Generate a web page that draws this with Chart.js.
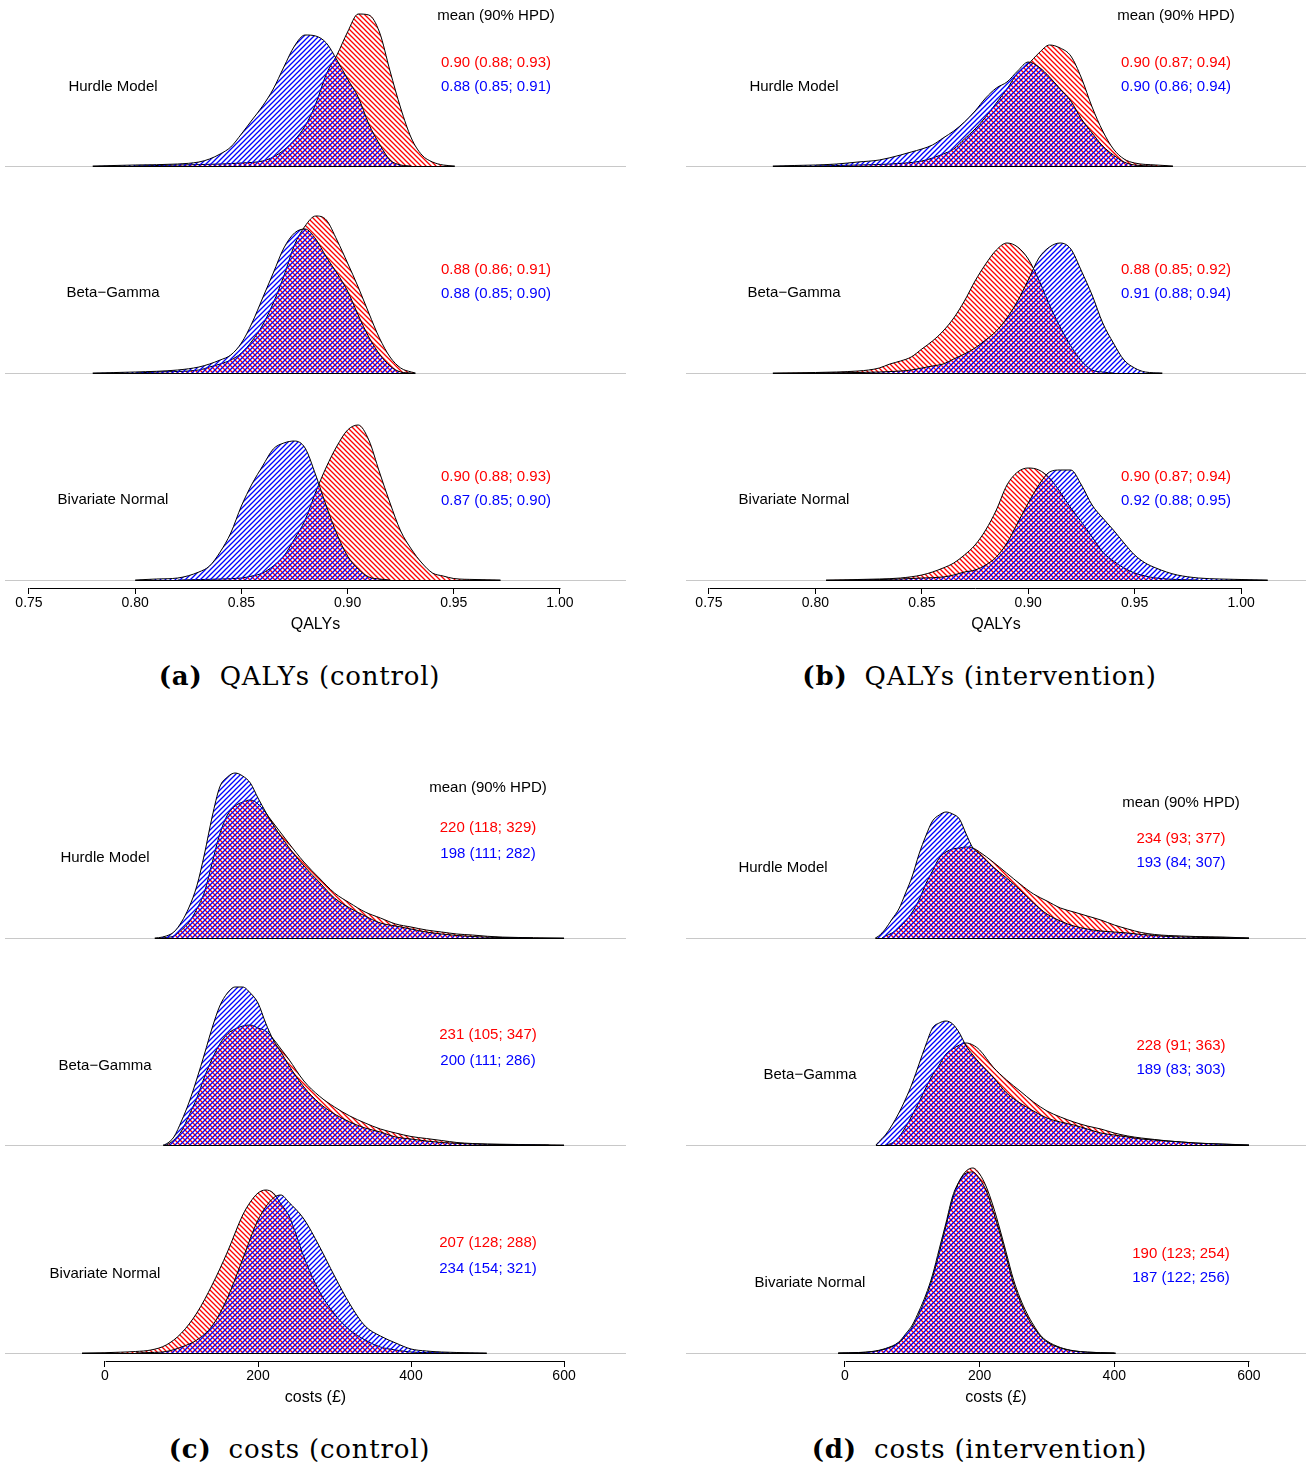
<!DOCTYPE html>
<html>
<head>
<meta charset="utf-8">
<script src="https://cdn.jsdelivr.net/npm/chart.js@4.4.1/dist/chart.umd.min.js"></script>
<style>
  body { margin: 0; background: #fff; width: 1311px; height: 1466px; position: relative; overflow: hidden; }
  .panel { position: absolute; width: 655px; }
  .cap { position: absolute; width: 655px; text-align: center; font-family: "DejaVu Serif", serif; font-size: 26px; letter-spacing: 0.8px; line-height: 30px; color: #000; }
  .cap b { margin-right: 8px; }
</style>
</head>
<body>
<div class="panel" style="left:0;top:0;height:640px"><canvas id="qalyControl"></canvas></div>
<div class="panel" style="left:656px;top:0;height:640px"><canvas id="qalyInterv"></canvas></div>
<div class="panel" style="left:0;top:720px;height:693px"><canvas id="costControl"></canvas></div>
<div class="panel" style="left:656px;top:720px;height:693px"><canvas id="costInterv"></canvas></div>
<div class="cap" style="left:-28px;top:661px"><b>(a)</b> QALYs (control)</div>
<div class="cap" style="left:652px;top:661px"><b>(b)</b> QALYs (intervention)</div>
<div class="cap" style="left:-28px;top:1434px"><b>(c)</b> costs (control)</div>
<div class="cap" style="left:652px;top:1434px"><b>(d)</b> costs (intervention)</div>
<script>
// posterior densities, [value, density (arbitrary units)]
const rowNames = ['Hurdle Model', 'Beta\u2212Gamma', 'Bivariate Normal'];
const qalyTicks = [0.75, 0.80, 0.85, 0.90, 0.95, 1.00];
const costTicks = [0, 200, 400, 600];

// (a) QALYs, control
const qcHurdleRed = [[0.80,0],[0.82,1],[0.84,2],[0.85,3],[0.86,5],[0.865,9],[0.87,16],[0.875,26],[0.88,40],[0.885,62],[0.89,92],[0.895,111],[0.90,134],[0.905,152],[0.91,151],[0.915,134],[0.92,95],[0.925,58],[0.93,28],[0.935,11],[0.94,4],[0.945,1],[0.9505,0]];
const qcHurdleBlue = [[0.78,0],[0.80,1],[0.82,2],[0.83,4],[0.835,7],[0.84,12],[0.845,19],[0.85,32],[0.855,46],[0.86,60],[0.865,77],[0.87,99],[0.875,120],[0.88,131],[0.885,130],[0.89,123],[0.895,106],[0.90,87],[0.905,69],[0.91,42],[0.915,22],[0.92,6],[0.925,1],[0.93,0]];
const qcBetaRed = [[0.80,0],[0.81,1],[0.83,3],[0.835,6],[0.84,9],[0.845,13],[0.85,20],[0.855,32],[0.86,48],[0.865,70],[0.87,97],[0.875,128],[0.88,147],[0.885,157],[0.89,153],[0.895,133],[0.90,110],[0.905,86],[0.91,60],[0.915,35],[0.92,16],[0.925,5],[0.93,1],[0.932,0]];
const qcBetaBlue = [[0.78,0],[0.80,1],[0.82,3],[0.83,6],[0.835,9],[0.84,13],[0.845,18],[0.85,30],[0.855,50],[0.86,75],[0.865,100],[0.87,125],[0.875,140],[0.88,144],[0.885,134],[0.89,116],[0.895,100],[0.90,82],[0.905,58],[0.91,36],[0.915,19],[0.92,7],[0.925,1],[0.93,0]];
const qcBivRed = [[0.82,0],[0.84,1],[0.85,2],[0.855,4],[0.86,7],[0.865,14],[0.87,24],[0.875,41],[0.88,60],[0.885,88],[0.89,113],[0.895,134],[0.90,150],[0.905,155],[0.91,140],[0.915,108],[0.92,77],[0.925,49],[0.93,31],[0.935,17],[0.94,7],[0.945,4],[0.95,1.5],[0.96,0.5],[0.972,0]];
const qcBivBlue = [[0.80,0],[0.81,1],[0.82,2],[0.83,8],[0.835,14],[0.84,28],[0.845,47],[0.85,74],[0.855,96],[0.86,114],[0.865,131],[0.87,137],[0.875,139],[0.88,132],[0.885,105],[0.89,74],[0.895,46],[0.90,24],[0.905,11],[0.91,3],[0.915,1],[0.92,0]];
const qcRedText = ['0.90 (0.88; 0.93)', '0.88 (0.86; 0.91)', '0.90 (0.88; 0.93)'];
const qcBlueText = ['0.88 (0.85; 0.91)', '0.88 (0.85; 0.90)', '0.87 (0.85; 0.90)'];

// (b) QALYs, intervention
const qiHurdleRed = [[0.80,0],[0.82,1],[0.835,2],[0.85,5],[0.855,8],[0.86,12],[0.865,17],[0.87,27],[0.875,37],[0.88,49],[0.885,63],[0.89,77],[0.895,93],[0.90,102],[0.905,113],[0.91,121],[0.915,118],[0.92,110],[0.925,88],[0.93,59],[0.935,35],[0.94,17],[0.945,7],[0.95,3],[0.96,1],[0.968,0]];
const qiHurdleBlue = [[0.78,0],[0.79,0.5],[0.80,1],[0.81,2],[0.82,4],[0.83,6],[0.84,11],[0.845,14],[0.85,17],[0.855,21],[0.86,28],[0.865,35],[0.87,44],[0.875,55],[0.88,68],[0.885,78],[0.89,84],[0.895,95],[0.90,104],[0.905,99],[0.91,89],[0.915,77],[0.92,65],[0.925,47],[0.93,33],[0.935,20],[0.94,11],[0.945,4],[0.95,1],[0.96,0]];
const qiBetaRed = [[0.78,0],[0.80,0.5],[0.81,1],[0.82,2],[0.825,3],[0.83,5],[0.835,9],[0.84,12],[0.845,16],[0.85,24],[0.855,32],[0.86,42],[0.865,55],[0.87,72],[0.875,92],[0.88,109],[0.885,123],[0.89,130],[0.895,126],[0.90,114],[0.905,93],[0.91,68],[0.915,46],[0.92,27],[0.925,12],[0.93,3],[0.935,1],[0.94,0]];
const qiBetaBlue = [[0.80,0],[0.82,0.5],[0.83,1],[0.84,2],[0.845,3],[0.85,5],[0.855,7],[0.86,9],[0.865,14],[0.87,19],[0.875,25],[0.88,33],[0.885,42],[0.89,55],[0.895,72],[0.90,93],[0.905,115],[0.91,126],[0.915,130],[0.92,124],[0.925,102],[0.93,78],[0.935,50],[0.94,30],[0.945,13],[0.95,5],[0.955,1],[0.963,0]];
const qiBivRed = [[0.805,0],[0.82,0.5],[0.83,1],[0.84,2],[0.85,5],[0.855,8],[0.86,12],[0.865,17],[0.87,25],[0.875,35],[0.88,50],[0.885,70],[0.89,95],[0.895,108],[0.90,112],[0.905,110],[0.91,102],[0.915,88],[0.92,72],[0.925,58],[0.93,43],[0.935,28],[0.94,19],[0.945,12],[0.95,7],[0.955,4],[0.96,2],[0.97,0.5],[0.98,0]];
const qiBivBlue = [[0.82,0],[0.84,1],[0.85,2],[0.86,3],[0.865,5],[0.87,8],[0.875,10],[0.88,15],[0.885,23],[0.89,37],[0.895,57],[0.90,77],[0.905,95],[0.91,108],[0.915,110],[0.92,110],[0.925,95],[0.93,75],[0.935,62],[0.94,50],[0.945,37],[0.95,25],[0.955,17],[0.96,12],[0.965,8],[0.97,5],[0.98,2],[0.99,1],[1.00,0.5],[1.0125,0]];
const qiRedText = ['0.90 (0.87; 0.94)', '0.88 (0.85; 0.92)', '0.90 (0.87; 0.94)'];
const qiBlueText = ['0.90 (0.86; 0.94)', '0.91 (0.88; 0.94)', '0.92 (0.88; 0.95)'];

// (c) costs, control
const ccHurdleRed = [[75,0],[80,0.5],[90,2],[100,8],[110,16],[120,29],[130,46],[140,75],[150,104],[160,123],[170,132],[180,136],[190,138],[200,134],[220,115],[240,95],[260,76],[280,60],[300,45],[320,35],[340,26],[360,20],[380,14],[400,11],[420,8],[440,6],[460,4],[480,3],[500,1.7],[520,0.9],[560,0.3],[600,0]];
const ccHurdleBlue = [[65,0],[70,0.3],[80,2],[90,6],[100,16],[110,31],[120,52],[130,84],[140,121],[150,151],[160,161],[170,165],[180,162],[190,155],[200,140],[220,113],[240,91],[260,72],[280,56],[300,40],[320,30],[340,22],[360,15],[380,12],[400,9],[420,6],[440,4],[460,2.5],[480,1.5],[500,0.8],[520,0.4],[560,0]];
const ccBetaRed = [[80,0],[85,2],[90,5],[100,14],[110,30],[120,47],[130,68],[140,86],[150,101],[160,111],[170,116],[180,119],[190,120],[200,117],[210,114],[220,106],[230,96],[240,86],[260,64],[280,49],[300,38],[320,29],[340,22],[360,16],[380,12],[400,8.5],[420,6.5],[440,4.5],[460,2.5],[480,1.5],[500,1],[540,0.5],[600,0]];
const ccBetaBlue = [[76,0],[80,1],[90,8],[100,24],[110,43],[120,66],[130,91],[140,117],[150,139],[160,152],[170,158],[180,158],[190,152],[200,142],[210,122],[220,105],[230,93],[240,80],[260,58],[280,42],[300,31],[320,23],[340,17],[360,13],[380,8],[400,6],[420,4],[440,2.5],[460,1.6],[500,0.7],[540,0.2],[580,0]];
const ccBivRed = [[-30,0],[0,0.3],[20,0.8],[40,1.5],[60,3],[80,8],[100,20],[120,40],[140,68],[160,101],[180,138],[190,151],[200,160],[210,163],[220,160],[230,149],[240,138],[250,118],[260,96],[280,62],[300,39],[320,23],[340,13],[360,6],[380,3],[400,1],[420,0.4],[450,0]];
const ccBivBlue = [[40,0],[60,0.5],[80,1.5],[100,6],[120,13],[140,27],[160,55],[180,94],[200,133],[220,155],[230,158],[240,151],[260,134],[280,107],[300,77],[320,49],[340,27],[360,17],[380,10],[400,4],[420,2],[440,1],[460,0.5],[499,0]];
const ccRedText = ['220 (118; 329)', '231 (105; 347)', '207 (128; 288)'];
const ccBlueText = ['198 (111; 282)', '200 (111; 286)', '234 (154; 321)'];

// (d) costs, intervention
const ciHurdleRed = [[55,0],[60,2],[70,5],[80,10],[90,17],[100,26],[110,38],[120,54],[130,67],[140,80],[150,86],[160,89],[170,90],[180,91],[190,90],[200,86],[220,76],[240,65],[260,54],[280,44],[300,37],[320,30],[340,26],[360,22],[380,18],[400,13],[420,9],[440,5.5],[460,3.5],[480,2.5],[500,2],[520,1.5],[560,1],[600,0]];
const ciHurdleBlue = [[45,0],[50,2],[60,9],[70,19],[80,29],[90,45],[100,62],[110,84],[120,102],[130,117],[140,123],[150,126],[160,124],[170,119],[180,104],[190,90],[200,84],[220,71],[240,60],[260,48],[280,35],[300,24],[320,17],[340,12],[360,9],[380,7],[400,6],[420,5],[440,3.5],[460,2.5],[480,1.5],[500,1],[540,0.5],[600,0]];
const ciBetaRed = [[60,0],[70,2],[80,8],[90,18],[100,30],[110,43],[120,57],[130,70],[140,80],[150,91],[160,96],[170,100],[180,102],[190,100],[200,95],[220,78],[240,65],[260,54],[280,43],[300,34],[320,28],[340,23],[360,19],[380,16],[400,12],[420,9],[440,7],[460,5.5],[480,4],[500,3],[520,2],[560,0.8],[600,0]];
const ciBetaBlue = [[46,0],[50,3],[60,10],[70,20],[80,32],[90,46],[100,62],[110,81],[120,100],[130,117],[140,122],[150,124],[160,121],[170,112],[180,99],[190,90],[200,82],[220,68],[240,52],[260,42],[280,34],[300,27],[320,23],[340,20],[360,16],[380,12],[400,10],[420,8],[440,6],[460,5],[480,4],[500,3],[520,2],[560,1],[600,0]];
const ciBivRed = [[-10,0],[20,0.4],[40,1.2],[60,4],[80,10],[90,17],[100,26],[110,39],[120,55],[130,75],[140,100],[150,127],[160,154],[170,172],[180,182],[190,185],[200,179],[210,166],[220,147],[230,124],[240,99],[250,74],[260,55],[270,40],[280,28],[290,18],[300,12],[320,5.5],[340,2.2],[360,0.9],[380,0.3],[402,0]];
const ciBivBlue = [[-10,0],[20,0.5],[40,1.5],[60,4.5],[80,11],[90,19],[100,28],[110,42],[120,58],[130,78],[140,104],[150,130],[160,157],[170,172],[180,180],[190,181],[200,174],[210,162],[220,142],[230,120],[240,95],[250,70],[260,52],[270,37],[280,26],[290,17],[300,11],[320,5],[340,2],[360,0.8],[380,0.3],[400,0]];
const ciRedText = ['234 (93; 377)', '228 (91; 363)', '190 (123; 254)'];
const ciBlueText = ['193 (84; 307)', '189 (83; 303)', '187 (122; 256)'];

const FONT = '"Liberation Sans", Arial, sans-serif';
Chart.defaults.font.family = FONT;
Chart.defaults.color = '#000';

// diagonal line hatching, like R's density/angle fill
function hatch(color, dir) {
  const s = 5;
  const c = document.createElement('canvas');
  c.width = s; c.height = s;
  const g = c.getContext('2d');
  g.strokeStyle = color;
  g.lineWidth = 1.3;
  g.beginPath();
  if (dir > 0) {
    g.moveTo(0, s); g.lineTo(s, 0);
    g.moveTo(-1, 1); g.lineTo(1, -1);
    g.moveTo(s - 1, s + 1); g.lineTo(s + 1, s - 1);
  } else {
    g.moveTo(0, 0); g.lineTo(s, s);
    g.moveTo(-1, s - 1); g.lineTo(1, s + 1);
    g.moveTo(s - 1, -1); g.lineTo(s + 1, 1);
  }
  g.stroke();
  return g.createPattern(c, 'repeat');
}
const redHatch = hatch('#ff0000', -1);
const blueHatch = hatch('#0000ff', 1);

const decor = {
  id: 'decor',
  beforeDatasetsDraw(chart, args, opts) {
    const { ctx, chartArea } = chart;
    ctx.save();
    ctx.strokeStyle = '#c8c8c8';
    ctx.lineWidth = 1;
    for (let i = 0; i < 3; i++) {
      const y = Math.round(chart.scales['y' + i].getPixelForValue(0)) + 0.5;
      ctx.beginPath();
      ctx.moveTo(chartArea.left, y);
      ctx.lineTo(chartArea.right, y);
      ctx.stroke();
    }
    ctx.restore();
  },
  afterDatasetsDraw(chart, args, opts) {
    const { ctx, chartArea } = chart;
    const xs = chart.scales.x;
    ctx.save();
    ctx.strokeStyle = '#000';
    ctx.lineWidth = 1;
    ctx.beginPath();
    chart.data.datasets.forEach(ds => {
      const y = Math.round(chart.scales[ds.yAxisID].getPixelForValue(0)) + 0.5;
      ctx.moveTo(xs.getPixelForValue(ds.data[0].x), y);
      ctx.lineTo(xs.getPixelForValue(ds.data[ds.data.length - 1].x), y);
    });
    // R style axis line: first to last tick only
    const t = xs.ticks;
    const ya = chartArea.bottom + 0.5;
    ctx.moveTo(Math.round(xs.getPixelForValue(t[0].value)) + 0.5, ya);
    ctx.lineTo(Math.round(xs.getPixelForValue(t[t.length - 1].value)) + 0.5, ya);
    ctx.stroke();

    ctx.font = '15px ' + FONT;
    ctx.textAlign = 'center';
    ctx.textBaseline = 'middle';
    for (let i = 0; i < 3; i++) {
      const y0 = chart.scales['y' + i].getPixelForValue(0);
      if (i === 0) {
        ctx.fillStyle = '#000';
        ctx.fillText('mean (90% HPD)', opts.valueX, y0 + opts.headerDy);
      }
      ctx.fillStyle = '#000';
      ctx.fillText(rowNames[i], opts.labelX[i], y0 + opts.labelDy[i]);
      ctx.fillStyle = '#ff0000';
      ctx.fillText(opts.redText[i], opts.valueX, y0 + opts.redDy);
      ctx.fillStyle = '#0000ff';
      ctx.fillText(opts.blueText[i], opts.valueX, y0 + opts.blueDy);
    }
    ctx.restore();
  }
};

function makePanel(id, p) {
  const datasets = [];
  p.curves.forEach((pair, i) => {
    // blue drawn after red, so it sits on top in the overlap
    [[pair[0], redHatch, 1], [pair[1], blueHatch, 0]].forEach(([pts, pat, ord]) => {
      datasets.push({
        data: pts.map(d => ({ x: d[0], y: d[1] })),
        yAxisID: 'y' + i,
        order: ord,
        borderColor: '#000',
        borderWidth: 1,
        backgroundColor: pat,
        fill: 'origin',
        pointRadius: 0,
        cubicInterpolationMode: 'monotone'
      });
    });
  });

  const scales = {
    x: {
      type: 'linear',
      min: p.xMin,
      max: p.xMax,
      afterBuildTicks: s => { s.ticks = p.ticks.map(v => ({ value: v })); },
      afterFit: s => { s.height = 52; },
      grid: { drawOnChartArea: false, drawTicks: true, tickLength: 6, color: '#000', lineWidth: 1 },
      border: { display: false },
      ticks: { font: { size: 14 }, color: '#000', padding: 1, maxRotation: 0, autoSkip: false, callback: p.fmt },
      title: { display: true, text: p.title, font: { size: 16 }, color: '#000', padding: { top: 0, bottom: 6 } }
    }
  };
  p.rows.forEach((r, i) => {
    scales['y' + i] = {
      type: 'linear', position: 'left', stack: 'rows', stackWeight: r[1] - r[0], weight: 3 - i,
      min: r[0], max: r[1],
      ticks: { display: false }, grid: { display: false }, border: { display: false },
      afterFit: s => { s.width = 0; }
    };
  });

  new Chart(document.getElementById(id), {
    type: 'line',
    data: { datasets },
    options: {
      animation: false,
      responsive: true,
      maintainAspectRatio: false,
      events: [],
      layout: { padding: { left: p.padLeft, right: p.padRight, top: 0, bottom: 0 } },
      scales,
      plugins: {
        legend: { display: false },
        tooltip: { enabled: false },
        decor: p.text
      }
    },
    plugins: [decor]
  });
}

const qalyFmt = v => v.toFixed(2);
const costFmt = v => String(v);

makePanel('qalyControl', {
  curves: [[qcHurdleRed, qcHurdleBlue], [qcBetaRed, qcBetaBlue], [qcBivRed, qcBivBlue]],
  rows: [[0, 166], [0, 207], [-8, 207]],
  xMin: 0.7387, xMax: 1.0311, ticks: qalyTicks, fmt: qalyFmt, title: 'QALYs',
  padLeft: 5, padRight: 29,
  text: { labelX: [113, 113, 113], labelDy: [-79, -80, -80], valueX: 496, headerDy: -150, redDy: -103, blueDy: -79, redText: qcRedText, blueText: qcBlueText }
});
makePanel('qalyInterv', {
  curves: [[qiHurdleRed, qiHurdleBlue], [qiBetaRed, qiBetaBlue], [qiBivRed, qiBivBlue]],
  rows: [[0, 166], [0, 207], [-8, 207]],
  xMin: 0.7392, xMax: 1.0305, ticks: qalyTicks, fmt: qalyFmt, title: 'QALYs',
  padLeft: 30, padRight: 5,
  text: { labelX: [138, 138, 138], labelDy: [-79, -80, -80], valueX: 520, headerDy: -150, redDy: -103, blueDy: -79, redText: qiRedText, blueText: qiBlueText }
});
makePanel('costControl', {
  curves: [[ccHurdleRed, ccHurdleBlue], [ccBetaRed, ccBetaBlue], [ccBivRed, ccBivBlue]],
  rows: [[0, 218], [0, 207], [-8, 208]],
  xMin: -130.7, xMax: 681, ticks: costTicks, fmt: costFmt, title: 'costs (\u00a3)',
  padLeft: 5, padRight: 29,
  text: { labelX: [105, 105, 105], labelDy: [-80, -79, -79], valueX: 488, headerDy: -150, redDy: -110, blueDy: -84, redText: ccRedText, blueText: ccBlueText }
});
makePanel('costInterv', {
  curves: [[ciHurdleRed, ciHurdleBlue], [ciBetaRed, ciBetaBlue], [ciBivRed, ciBivBlue]],
  rows: [[0, 218], [0, 207], [-8, 208]],
  xMin: -236.1, xMax: 684.7, ticks: costTicks, fmt: costFmt, title: 'costs (\u00a3)',
  padLeft: 30, padRight: 5,
  text: { labelX: [127, 154, 154], labelDy: [-70, -70, -70], valueX: 525, headerDy: -135, redDy: -99, blueDy: -75, redText: ciRedText, blueText: ciBlueText }
});
</script>
</body>
</html>
